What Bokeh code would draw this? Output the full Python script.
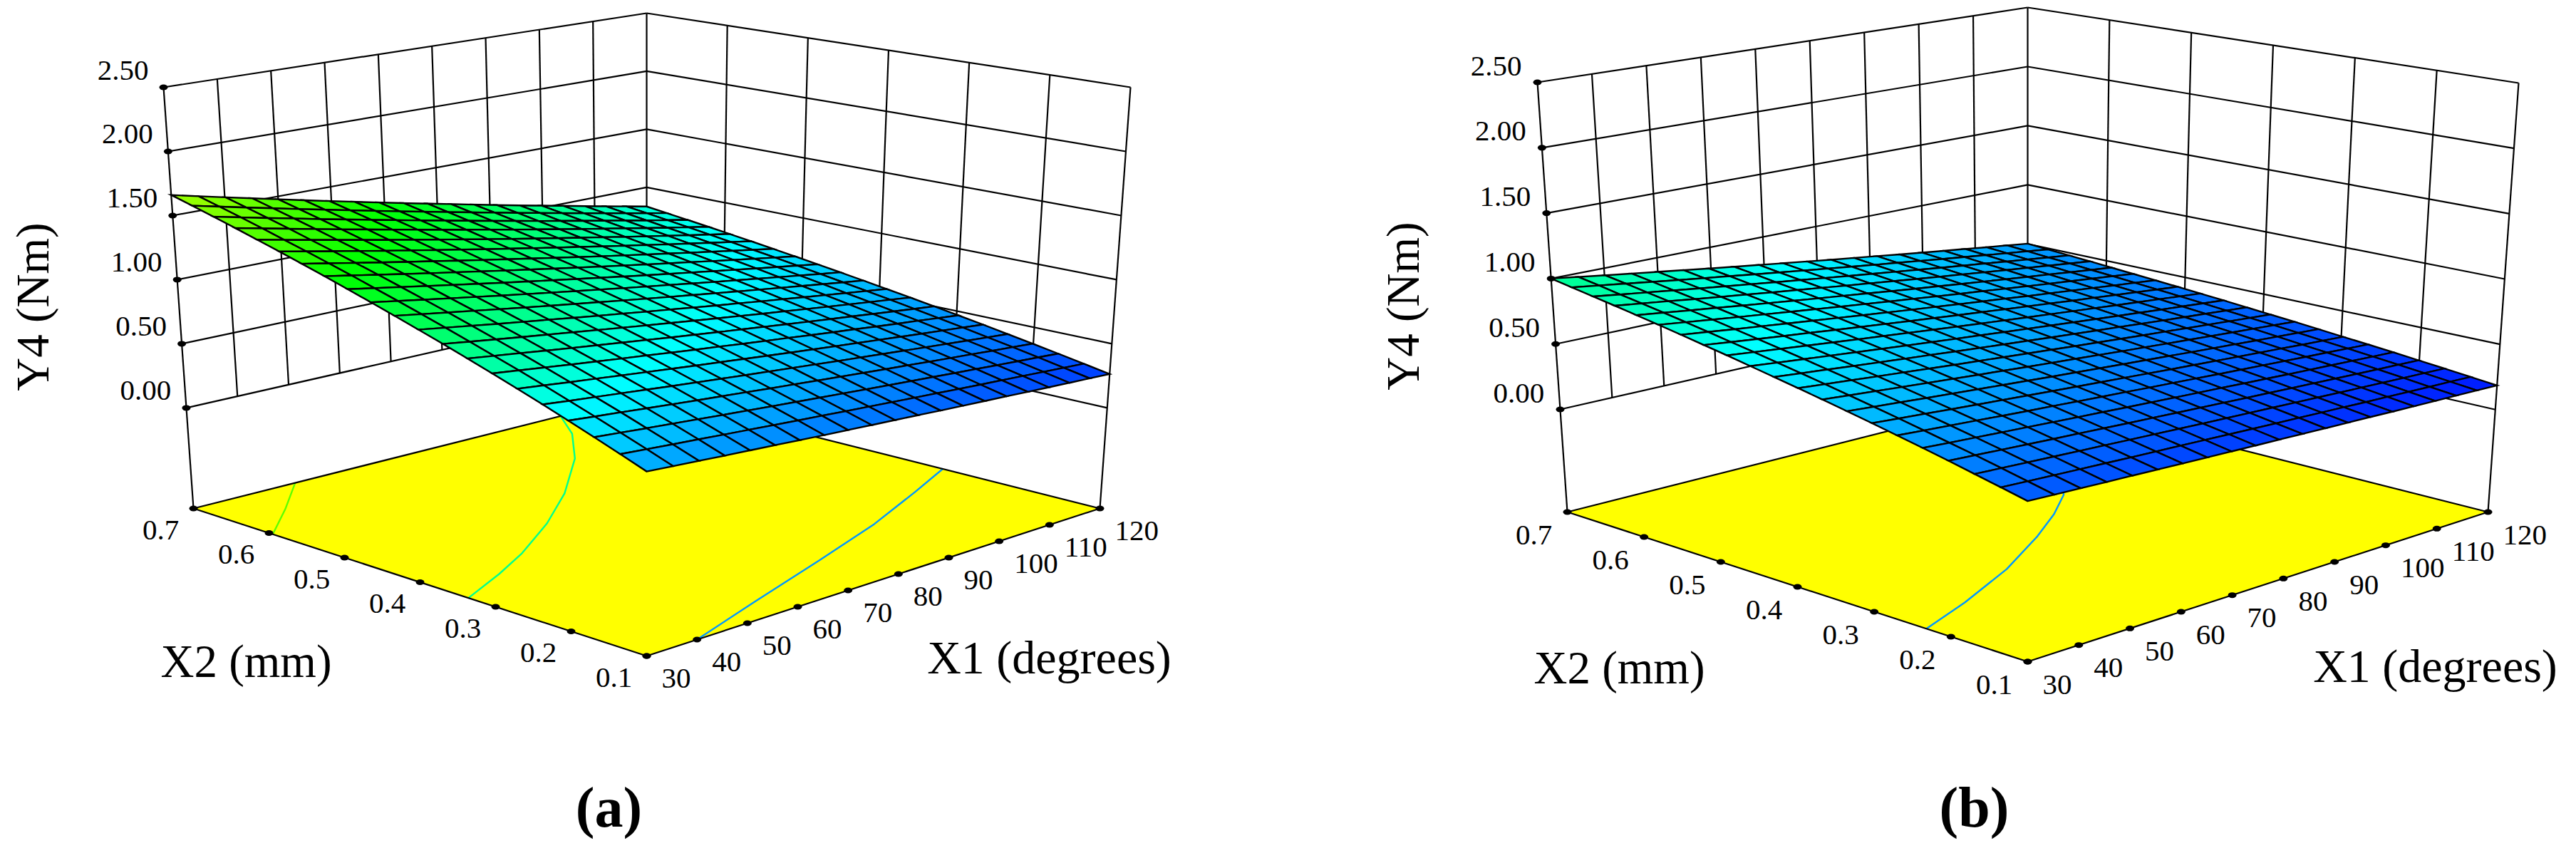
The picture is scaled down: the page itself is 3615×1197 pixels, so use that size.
from bokeh.plotting import figure
from bokeh.embed import file_html
from bokeh.resources import INLINE
from bokeh.core.properties import value
from bokeh.models import Range1d
import math

# ---------- data ----------
X1_TICKS = [30, 40, 50, 60, 70, 80, 90, 100, 110, 120]
X2_TICKS = [0.1, 0.2, 0.3, 0.4, 0.5, 0.6, 0.7]
Y_TICKS = [0.0, 0.5, 1.0, 1.5, 2.0, 2.5]
Y_FLOOR = -0.784

# where the mesh nodes sit along each axis, as a share of the axis (the mesh is foreshortened)
MESH_POS = [0, .0567, .1126, .1679, .2224, .2763, .3294, .3819, .4336, .4847, .535,
            .5847, .6336, .6819, .7294, .7763, .8224, .8679, .9126, .9567, 1]

# mesh nodes: rows run along X2 (0.1 -> 0.7), columns along X1 (30 -> 120)
Z_A = [
[.530,.515,.500,.485,.471,.457,.442,.428,.415,.401,.388,.375,.361,.349,.336,.324,.311,.299,.287,.276,.264],
[.601,.584,.567,.551,.534,.518,.502,.486,.471,.455,.440,.425,.410,.396,.381,.367,.354,.340,.326,.313,.300],
[.670,.651,.632,.614,.596,.577,.560,.542,.525,.508,.491,.474,.458,.442,.426,.410,.395,.379,.364,.350,.335],
[.738,.717,.697,.676,.656,.636,.617,.598,.578,.560,.541,.523,.505,.487,.470,.452,.435,.419,.402,.386,.370],
[.804,.781,.759,.737,.715,.693,.672,.651,.630,.610,.590,.570,.550,.531,.512,.493,.474,.456,.438,.420,.403],
[.868,.844,.819,.796,.772,.749,.726,.703,.681,.659,.637,.615,.594,.573,.553,.533,.513,.493,.474,.455,.436],
[.931,.905,.879,.853,.828,.803,.779,.754,.730,.707,.683,.660,.638,.615,.593,.572,.550,.529,.509,.488,.468],
[.992,.964,.937,.909,.882,.856,.830,.804,.778,.753,.728,.704,.680,.656,.632,.609,.587,.564,.542,.520,.499],
[1.052,1.022,.993,.964,.936,.908,.880,.852,.825,.799,.772,.746,.721,.695,.671,.646,.622,.598,.575,.552,.529],
[1.110,1.079,1.048,1.017,.987,.958,.928,.899,.871,.842,.815,.787,.760,.734,.707,.682,.656,.631,.606,.582,.558],
[1.167,1.134,1.102,1.070,1.038,1.007,.976,.946,.916,.886,.857,.828,.800,.772,.744,.717,.690,.664,.638,.612,.587],
[1.222,1.188,1.154,1.120,1.087,1.054,1.022,.990,.959,.928,.897,.867,.838,.808,.779,.751,.723,.695,.668,.641,.615],
[1.276,1.240,1.205,1.170,1.135,1.101,1.067,1.034,1.001,.969,.937,.905,.874,.844,.814,.784,.755,.726,.698,.670,.642],
[1.329,1.292,1.255,1.218,1.182,1.147,1.112,1.077,1.043,1.009,.976,.943,.911,.879,.848,.817,.786,.756,.727,.698,.669],
[1.380,1.341,1.303,1.265,1.227,1.191,1.154,1.118,1.083,1.048,1.013,.979,.945,.912,.880,.848,.816,.785,.754,.724,.694],
[1.430,1.390,1.350,1.311,1.272,1.234,1.196,1.159,1.122,1.086,1.050,1.015,.981,.946,.912,.879,.846,.814,.782,.751,.720],
[1.478,1.436,1.395,1.355,1.315,1.275,1.236,1.198,1.160,1.122,1.085,1.049,1.013,.978,.943,.908,.874,.841,.808,.776,.744],
[1.526,1.483,1.441,1.399,1.357,1.317,1.276,1.237,1.197,1.159,1.121,1.083,1.046,1.009,.973,.938,.903,.868,.834,.801,.768],
[1.572,1.528,1.484,1.441,1.398,1.356,1.315,1.274,1.233,1.194,1.154,1.115,1.077,1.039,1.002,.966,.930,.894,.859,.825,.791],
[1.617,1.571,1.526,1.482,1.438,1.395,1.352,1.310,1.268,1.227,1.187,1.147,1.108,1.069,1.031,.993,.956,.919,.883,.848,.813],
[1.660,1.613,1.567,1.522,1.477,1.432,1.388,1.345,1.302,1.260,1.219,1.178,1.137,1.097,1.058,1.020,.982,.944,.907,.871,.835],
]
Z_B = [
[.339,.330,.322,.313,.305,.296,.288,.280,.272,.264,.257,.249,.241,.234,.227,.219,.212,.205,.199,.192,.185],
[.381,.371,.361,.351,.342,.332,.323,.314,.305,.296,.287,.278,.270,.261,.253,.244,.236,.228,.220,.213,.205],
[.422,.411,.400,.389,.378,.368,.357,.347,.337,.326,.317,.307,.298,.288,.279,.269,.260,.251,.242,.234,.225],
[.463,.451,.438,.426,.414,.403,.391,.379,.368,.357,.346,.335,.324,.314,.303,.293,.283,.273,.263,.254,.244],
[.502,.488,.475,.462,.449,.436,.423,.411,.398,.386,.374,.362,.351,.339,.328,.316,.305,.295,.284,.273,.263],
[.540,.525,.511,.497,.482,.468,.455,.441,.428,.415,.401,.389,.376,.363,.351,.339,.327,.315,.304,.292,.281],
[.577,.561,.546,.530,.515,.500,.485,.470,.456,.442,.428,.414,.400,.387,.374,.360,.348,.335,.322,.310,.298],
[.613,.596,.580,.563,.547,.531,.515,.500,.484,.469,.454,.439,.425,.411,.396,.382,.369,.355,.342,.329,.316],
[.648,.630,.613,.595,.578,.561,.544,.528,.511,.495,.480,.464,.448,.433,.418,.404,.389,.375,.361,.347,.333],
[.682,.663,.645,.626,.608,.590,.572,.555,.538,.521,.504,.487,.471,.455,.439,.424,.408,.393,.378,.363,.349],
[.715,.695,.676,.656,.637,.618,.600,.581,.563,.545,.528,.510,.493,.476,.460,.443,.427,.411,.396,.380,.365],
[.747,.726,.706,.686,.666,.646,.626,.607,.588,.570,.551,.533,.515,.497,.480,.463,.446,.429,.413,.397,.381],
[.779,.757,.736,.715,.694,.673,.653,.633,.613,.593,.574,.555,.536,.518,.500,.482,.464,.447,.430,.413,.396],
[.809,.786,.764,.742,.721,.699,.678,.657,.636,.616,.596,.577,.557,.538,.519,.500,.482,.464,.446,.428,.411],
[.839,.816,.792,.770,.747,.725,.703,.681,.660,.638,.618,.597,.577,.557,.537,.518,.499,.480,.461,.443,.425],
[.868,.844,.820,.796,.773,.750,.727,.704,.682,.660,.639,.617,.596,.576,.555,.535,.515,.496,.477,.458,.439],
[.896,.871,.846,.822,.797,.773,.750,.726,.704,.681,.658,.636,.615,.593,.572,.551,.531,.511,.491,.471,.452],
[.923,.897,.872,.846,.821,.797,.772,.749,.725,.701,.679,.656,.633,.611,.590,.568,.547,.526,.506,.486,.466],
[.949,.922,.896,.870,.844,.819,.794,.769,.745,.721,.697,.674,.651,.628,.605,.583,.562,.540,.519,.498,.478],
[.975,.948,.921,.894,.867,.841,.816,.790,.765,.740,.716,.692,.668,.645,.622,.599,.577,.555,.533,.512,.491],
[1.000,.972,.944,.917,.890,.863,.836,.810,.785,.759,.734,.709,.685,.661,.637,.614,.591,.569,.546,.525,.503],
]

# contour lines on the floor: level, X1 values, X2 values
CONTOUR_A_150_X1 = [30.0, 39.9, 50.2]
CONTOUR_A_150_X2 = [0.595, 0.6445, 0.70]
CONTOUR_A_100_X1 = [30.0, 40.9, 50.1, 62.7, 74.9, 88.5, 97.4, 102.9]
CONTOUR_A_100_X2 = [0.336, 0.368, 0.399, 0.450, 0.508, 0.585, 0.648, 0.70]
CONTOUR_A_050_X1 = [40.0, 57.8, 77.0, 94.4, 109.2, 120.0]
CONTOUR_A_050_X2 = [0.10, 0.141, 0.185, 0.228, 0.273, 0.308]
CONTOUR_B_050_X1 = [30.0, 42.0, 56.8, 70.6, 79.7, 87.3, 92.0]
CONTOUR_B_050_X2 = [0.232, 0.262, 0.306, 0.358, 0.397, 0.435, 0.47]

# colour scale of the surface
COLOR_LEVELS = [0.12, 0.76, 1.30, 1.85]
COLOR_STOPS = [(0, 0, 255), (0, 255, 255), (0, 255, 0), (255, 255, 0)]

# ---------- page geometry ----------
W, H = 3599, 1181
FONT = value("Liberation Serif")

# 3-D box of each panel on the page: key = (X1 end, X2 end, Y end)
BOX_A = {(0, 0, 0): (915, 928), (1, 0, 0): (1551, 721), (0, 1, 0): (279, 721), (1, 1, 0): (915, 561),
         (0, 0, 1): (915, 281), (1, 0, 1): (1594, 130), (0, 1, 1): (237, 130), (1, 1, 1): (915, 26)}
BOX_B = {(0, 0, 0): (2853, 936), (1, 0, 0): (3499, 726), (0, 1, 0): (2207, 726), (1, 1, 0): (2853, 563),
         (0, 0, 1): (2853, 277), (1, 0, 1): (3542, 124), (0, 1, 1): (2165, 123), (1, 1, 1): (2853, 18)}


def project(box, x1, x2, y):
    u = (x1 - X1_TICKS[0]) / (X1_TICKS[-1] - X1_TICKS[0])
    v = (x2 - X2_TICKS[0]) / (X2_TICKS[-1] - X2_TICKS[0])
    w = (y - Y_FLOOR) / (Y_TICKS[-1] - Y_FLOOR)
    px = py = 0.0
    for (a, b, c), (cx, cy) in box.items():
        k = (u if a else 1 - u) * (v if b else 1 - v) * (w if c else 1 - w)
        px += k * cx
        py += k * cy
    return px, py


def colour(z):
    lv, st = COLOR_LEVELS, COLOR_STOPS
    z = min(max(z, lv[0]), lv[-1])
    for i in range(len(lv) - 1):
        if z <= lv[i + 1]:
            t = (z - lv[i]) / (lv[i + 1] - lv[i])
            rgb = [round(st[i][k] + t * (st[i + 1][k] - st[i][k])) for k in range(3)]
            return "#%02x%02x%02x" % tuple(rgb)
    return "#ffff00"


def segment(p, box, a, b, width=2.2):
    pa, pb = project(box, *a), project(box, *b)
    p.line([pa[0], pb[0]], [pa[1], pb[1]], line_color="#000000", line_width=width)


def panel(p, box, zgrid, contours, off, names):
    x_lo, x_hi = X1_TICKS[0], X1_TICKS[-1]
    s_lo, s_hi = X2_TICKS[0], X2_TICKS[-1]
    y_lo, y_hi = Y_TICKS[0], Y_TICKS[-1]

    # floor
    corners = [project(box, x, s, Y_FLOOR) for x, s in
               [(x_lo, s_lo), (x_hi, s_lo), (x_hi, s_hi), (x_lo, s_hi)]]
    p.patch([c[0] for c in corners], [c[1] for c in corners], fill_color="#ffff00", line_color=None)

    # contours
    for level, xs, ss in contours:
        pts = [project(box, x, s, Y_FLOOR) for x, s in zip(xs, ss)]
        p.line([c[0] for c in pts], [c[1] for c in pts], line_color=colour(level), line_width=2.4)

    # walls
    for yt in Y_TICKS:
        segment(p, box, (x_lo, s_hi, yt), (x_hi, s_hi, yt))
        segment(p, box, (x_hi, s_hi, yt), (x_hi, s_lo, yt))
    for xt in X1_TICKS[1:-1]:
        segment(p, box, (xt, s_hi, y_lo), (xt, s_hi, y_hi))
    for st in X2_TICKS[1:-1]:
        segment(p, box, (x_hi, st, y_lo), (x_hi, st, y_hi))
    segment(p, box, (x_lo, s_hi, Y_FLOOR), (x_lo, s_hi, y_hi))
    segment(p, box, (x_hi, s_hi, Y_FLOOR), (x_hi, s_hi, y_hi))
    segment(p, box, (x_hi, s_lo, Y_FLOOR), (x_hi, s_lo, y_hi))

    # floor outline
    for i in range(4):
        a, b = corners[i], corners[(i + 1) % 4]
        p.line([a[0], b[0]], [a[1], b[1]], line_color="#000000", line_width=2.2)

    # surface
    nr, nc = len(zgrid), len(zgrid[0])
    node_x1 = [x_lo + (x_hi - x_lo) * f for f in MESH_POS]
    node_x2 = [s_lo + (s_hi - s_lo) * f for f in MESH_POS]
    xs, ys, cols = [], [], []
    for j in range(nr - 1, 0, -1):
        for i in range(nc - 1, 0, -1):
            quad = [(i - 1, j - 1), (i, j - 1), (i, j), (i - 1, j)]
            pts = [project(box, node_x1[a], node_x2[b], zgrid[b][a]) for a, b in quad]
            xs.append([c[0] for c in pts])
            ys.append([c[1] for c in pts])
            cols.append(colour(sum(zgrid[b][a] for a, b in quad) / 4))
    p.patches(xs, ys, fill_color=cols, line_color="#000000", line_width=2.4, line_join="miter")

    # tick dots
    tx = [project(box, x_lo, s_hi, yt) for yt in Y_TICKS]
    ts = [project(box, x_lo, st, Y_FLOOR) for st in X2_TICKS]
    t1 = [project(box, xt, s_lo, Y_FLOOR) for xt in X1_TICKS]
    for pts in (tx, ts, t1):
        p.ellipse([c[0] for c in pts], [c[1] for c in pts], width=12, height=8,
                  fill_color="#000000", line_color=None)

    # tick labels
    p.text([c[0] + off["y"][0] for c in tx], [c[1] + off["y"][1] for c in tx],
           text=["%.2f" % t for t in Y_TICKS], text_font=FONT, text_font_size=value("41px"),
           text_align="center", text_baseline="middle", text_color="#000000")
    p.text([c[0] + off["s"][0] for c in ts], [c[1] + off["s"][1] for c in ts],
           text=["%.1f" % t for t in X2_TICKS], text_font=FONT, text_font_size=value("41px"),
           text_align="center", text_baseline="middle", text_color="#000000")
    p.text([c[0] + off["x"][0] for c in t1], [c[1] + off["x"][1] for c in t1],
           text=[str(t) for t in X1_TICKS], text_font=FONT, text_font_size=value("41px"),
           text_align="left", text_baseline="middle", text_color="#000000")

    # axis titles and panel tag
    for text, x, y, angle, size, style in names:
        p.text([x], [y], text=[text], angle=angle, text_font=FONT, text_font_size=value(size),
               text_font_style=style, text_align="center", text_baseline="middle", text_color="#000000")


p = figure(width=W, height=H, output_backend="svg", toolbar_location=None,
           x_range=Range1d(8, 8 + W), y_range=Range1d(8 + H, 8), min_border=0,
           x_axis_type=None, y_axis_type=None, outline_line_color=None)
p.grid.visible = False
p.background_fill_color = "#ffffff"
p.border_fill_color = "#ffffff"

panel(p, BOX_A, Z_A,
      [(1.5, CONTOUR_A_150_X1, CONTOUR_A_150_X2),
       (1.0, CONTOUR_A_100_X1, CONTOUR_A_100_X2),
       (0.5, CONTOUR_A_050_X1, CONTOUR_A_050_X2)],
      {"y": (-57, -24), "s": (-46, 30), "x": (21, 31)},
      [("Y4 (Nm)", 53, 438, math.pi / 2, "65px", "normal"),
       ("X2 (mm)", 353, 935, 0, "65px", "normal"),
       ("X1 (degrees)", 1480, 930, 0, "66px", "normal"),
       ("(a)", 862, 1140, 0, "80px", "bold")])

panel(p, BOX_B, Z_B,
      [(0.5, CONTOUR_B_050_X1, CONTOUR_B_050_X2)],
      {"y": (-58, -23), "s": (-47, 32), "x": (21, 32)},
      [("Y4 (Nm)", 1976, 437, math.pi / 2, "65px", "normal"),
       ("X2 (mm)", 2280, 944, 0, "65px", "normal"),
       ("X1 (degrees)", 3425, 942, 0, "66px", "normal"),
       ("(b)", 2778, 1140, 0, "80px", "bold")])

open("out.html", "w").write(file_html(p, INLINE))
